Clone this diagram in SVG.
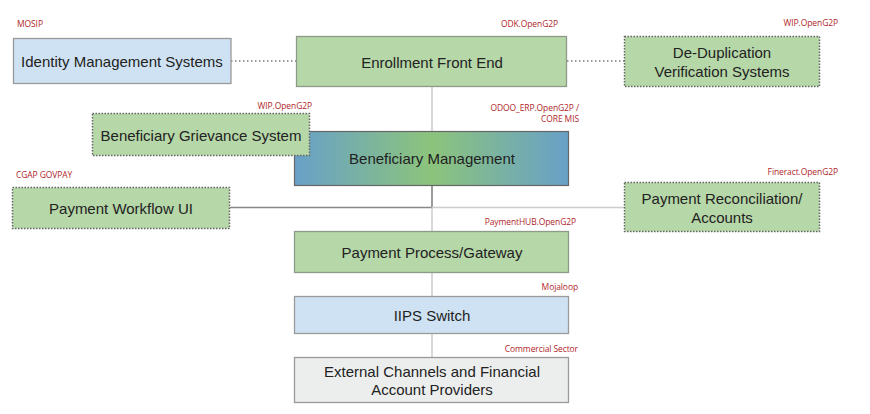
<svg xmlns="http://www.w3.org/2000/svg" width="870" height="414" viewBox="0 0 870 414">
<defs>
<linearGradient id="bmGrad" x1="0" y1="0" x2="1" y2="0">
<stop offset="0" stop-color="#68a0c8"/>
<stop offset="0.5" stop-color="#8cc47c"/>
<stop offset="1" stop-color="#68a0c8"/>
</linearGradient>
<style>
.lbl{font-family:"Liberation Sans",Arial,sans-serif;font-size:15px;fill:#222;text-anchor:middle;dominant-baseline:central}
.tag{font-family:"Open Sans","Liberation Sans",sans-serif;font-size:8.5px;fill:#b0262a;text-anchor:end;letter-spacing:-0.1px}
.start{text-anchor:start}
.blue{fill:#cfe2f3;stroke:#9a9a9a;stroke-width:1.3}
.green{fill:#b6d7a8;stroke:#8d9a88;stroke-width:1.3}
.greend{fill:#b6d7a8;stroke:#666;stroke-width:1.5;stroke-dasharray:1.5 1.5}
.grey{fill:#eceeee;stroke:#9a9a9a;stroke-width:1.3}
.conn-light{stroke:#cccccc;stroke-width:1.5;fill:none}
.conn-dark{stroke:#666;stroke-width:1.3;fill:none}
.conn-mid{stroke:#888;stroke-width:1.3;fill:none}
.conn-dot{stroke:#777;stroke-width:1.5;stroke-dasharray:1.5 2.5;fill:none}
</style>
</defs>
<rect width="870" height="414" fill="#ffffff"/>
<g id="connectors">
<line class="conn-dot" x1="231" y1="61" x2="297" y2="61"/>
<line class="conn-dot" x1="567" y1="61" x2="624" y2="61"/>
<line class="conn-light" x1="432" y1="86" x2="432" y2="131"/>
<line class="conn-dark" x1="432" y1="185" x2="432" y2="207.5"/>
<line class="conn-mid" x1="230" y1="207.5" x2="432" y2="207.5"/>
<line class="conn-light" x1="432" y1="207.5" x2="624" y2="207.5"/>
<line class="conn-light" x1="432" y1="207.5" x2="432" y2="231"/>
<line class="conn-light" x1="432" y1="273" x2="432" y2="296"/>
<line class="conn-light" x1="432" y1="333" x2="432" y2="357"/>
</g>
<g id="identity">
<rect class="blue" x="13.5" y="38.5" width="217.5" height="45"/>
<text class="lbl" x="122" y="61">Identity Management Systems</text>
<text class="tag start" x="17" y="27">MOSIP</text>
</g>
<g id="enrollment">
<rect class="green" x="296.5" y="36.5" width="270" height="50"/>
<text class="lbl" x="432" y="62">Enrollment Front End</text>
<text class="tag" x="558" y="27">ODK.OpenG2P</text>
</g>
<g id="dedup">
<rect class="greend" x="624.5" y="36.5" width="195" height="50"/>
<text class="lbl" x="722" y="52">De-Duplication</text>
<text class="lbl" x="722" y="71">Verification Systems</text>
<text class="tag" x="838" y="26">WIP.OpenG2P</text>
</g>
<g id="benmgmt">
<rect x="294.5" y="131.5" width="274" height="54" fill="url(#bmGrad)" stroke="#666" stroke-width="1.2"/>
<text class="lbl" x="432" y="158">Beneficiary Management</text>
<text class="tag" x="579" y="111">ODOO_ERP.OpenG2P /</text>
<text class="tag" x="579" y="122">CORE MIS</text>
</g>
<g id="grievance">
<rect class="greend" x="92.5" y="113.5" width="217" height="42"/>
<text class="lbl" x="201" y="135">Beneficiary Grievance System</text>
<text class="tag" x="312" y="109">WIP.OpenG2P</text>
</g>
<g id="workflow">
<rect class="greend" x="12.5" y="187.5" width="217" height="41"/>
<text class="lbl" x="121" y="208">Payment Workflow UI</text>
<text class="tag start" x="16" y="178">CGAP GOVPAY</text>
</g>
<g id="reconciliation">
<rect class="greend" x="624.5" y="182.5" width="195" height="49"/>
<text class="lbl" x="722" y="198">Payment Reconciliation/</text>
<text class="lbl" x="722" y="217">Accounts</text>
<text class="tag" x="838" y="175">Fineract.OpenG2P</text>
</g>
<g id="gateway">
<rect class="green" x="294.5" y="231.5" width="274" height="41"/>
<text class="lbl" x="432" y="252">Payment Process/Gateway</text>
<text class="tag" x="576" y="225">PaymentHUB.OpenG2P</text>
</g>
<g id="iips">
<rect class="blue" x="294.5" y="296.5" width="274" height="37"/>
<text class="lbl" x="432" y="315">IIPS Switch</text>
<text class="tag" x="578" y="290">Mojaloop</text>
</g>
<g id="external">
<rect class="grey" x="294.5" y="357.5" width="274" height="45"/>
<text class="lbl" x="432" y="371">External Channels and Financial</text>
<text class="lbl" x="432" y="389">Account Providers</text>
<text class="tag" x="578" y="352">Commercial Sector</text>
</g>
</svg>
